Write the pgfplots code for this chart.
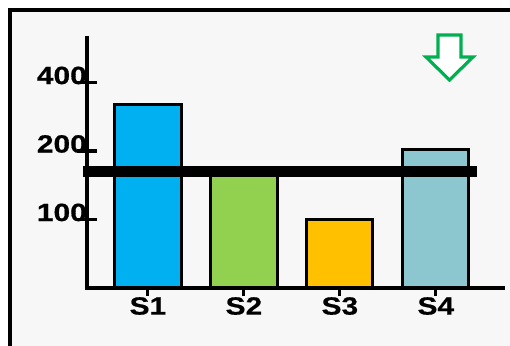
\documentclass[border=0pt]{standalone}
\usepackage{pgfplots}
\pgfplotsset{compat=1.18}
\usepackage{fontspec}
\setmainfont{Liberation Sans}[FakeStretch=1.2, BoldFeatures={FakeBold=0.6}]

\definecolor{panelbg}{HTML}{F7F7F7}
\definecolor{cS1}{HTML}{00B0F0}
\definecolor{cS2}{HTML}{92D050}
\definecolor{cS3}{HTML}{FFC000}
\definecolor{cS4}{HTML}{8CC7CF}
\definecolor{arrowgreen}{HTML}{00B050}

\begin{document}
\begin{tikzpicture}
\useasboundingbox (0bp,0bp) rectangle (510bp,346bp);
\begin{scope}
\clip (0bp,0bp) rectangle (510bp,346bp);
\fill[white] (0bp,0bp) rectangle (510bp,346bp);
\draw[line width=4bp, fill=panelbg] (10bp,-20bp) rectangle (530bp,336bp);
\end{scope}

% bars, threshold line and the value axis
\begin{axis}[
  at={(87bp,58bp)}, anchor=south west,
  scale only axis, width=416bp, height=250bp,
  xmin=0.365, xmax=4.70,
  ymode=log, log basis y=2, log origin=infty,
  ymin=50, ymax=628,
  axis x line=none, axis y line=left,
  axis line style={-, line width=3.5bp, line cap=rect},
  ytick={100,200,400}, yticklabels={100,200,400},
  minor ytick={},
  tick align=center, major tick length=20bp,
  ytick style={line width=3.5bp, black},
  /pgf/number format/assume math mode=true,
  yticklabel style={font=\bfseries\fontsize{25}{25}\selectfont, anchor=base east, inner sep=0pt, xshift=10bp, yshift=-1.5bp},
  ybar, bar width=0.69, bar shift=0pt,
  clip=false,
]
\addplot[fill=cS1, draw=black, line width=3bp] coordinates {(1,320)};
\addplot[fill=cS2, draw=black, line width=3bp] coordinates {(2,163)};
\addplot[fill=cS3, draw=black, line width=3bp] coordinates {(3,100)};
\addplot[fill=cS4, draw=black, line width=3bp] coordinates {(4,204)};
% threshold
\addplot[sharp plot, black, line width=11bp, line cap=butt, mark=none] coordinates {(0.323,163) (4.427,163)};
\end{axis}

% category axis
\begin{axis}[
  at={(87bp,58bp)}, anchor=south west,
  scale only axis, width=416bp, height=250bp,
  xmin=0.365, xmax=4.70, ymin=0, ymax=1,
  axis y line=none, axis x line=bottom,
  axis line style={-, line width=3.5bp, line cap=rect},
  xtick={1,2,3,4}, xticklabels={S1,S2,S3,S4},
  tick align=outside, major tick length=8bp,
  xtick style={line width=3bp, black},
  xticklabel style={font=\bfseries\fontsize{25}{25}\selectfont, anchor=north, inner sep=0pt, yshift=-1bp},
]
\end{axis}

% direction marker
\begin{scope}[x=1bp,y=1bp]
\draw[arrowgreen, line width=3.2bp, fill=white, line join=miter]
  (438,311) -- (461,311) -- (461,289) -- (473,289) -- (449.5,266) -- (426,289) -- (438,289) -- cycle;
\end{scope}
\end{tikzpicture}
\end{document}
